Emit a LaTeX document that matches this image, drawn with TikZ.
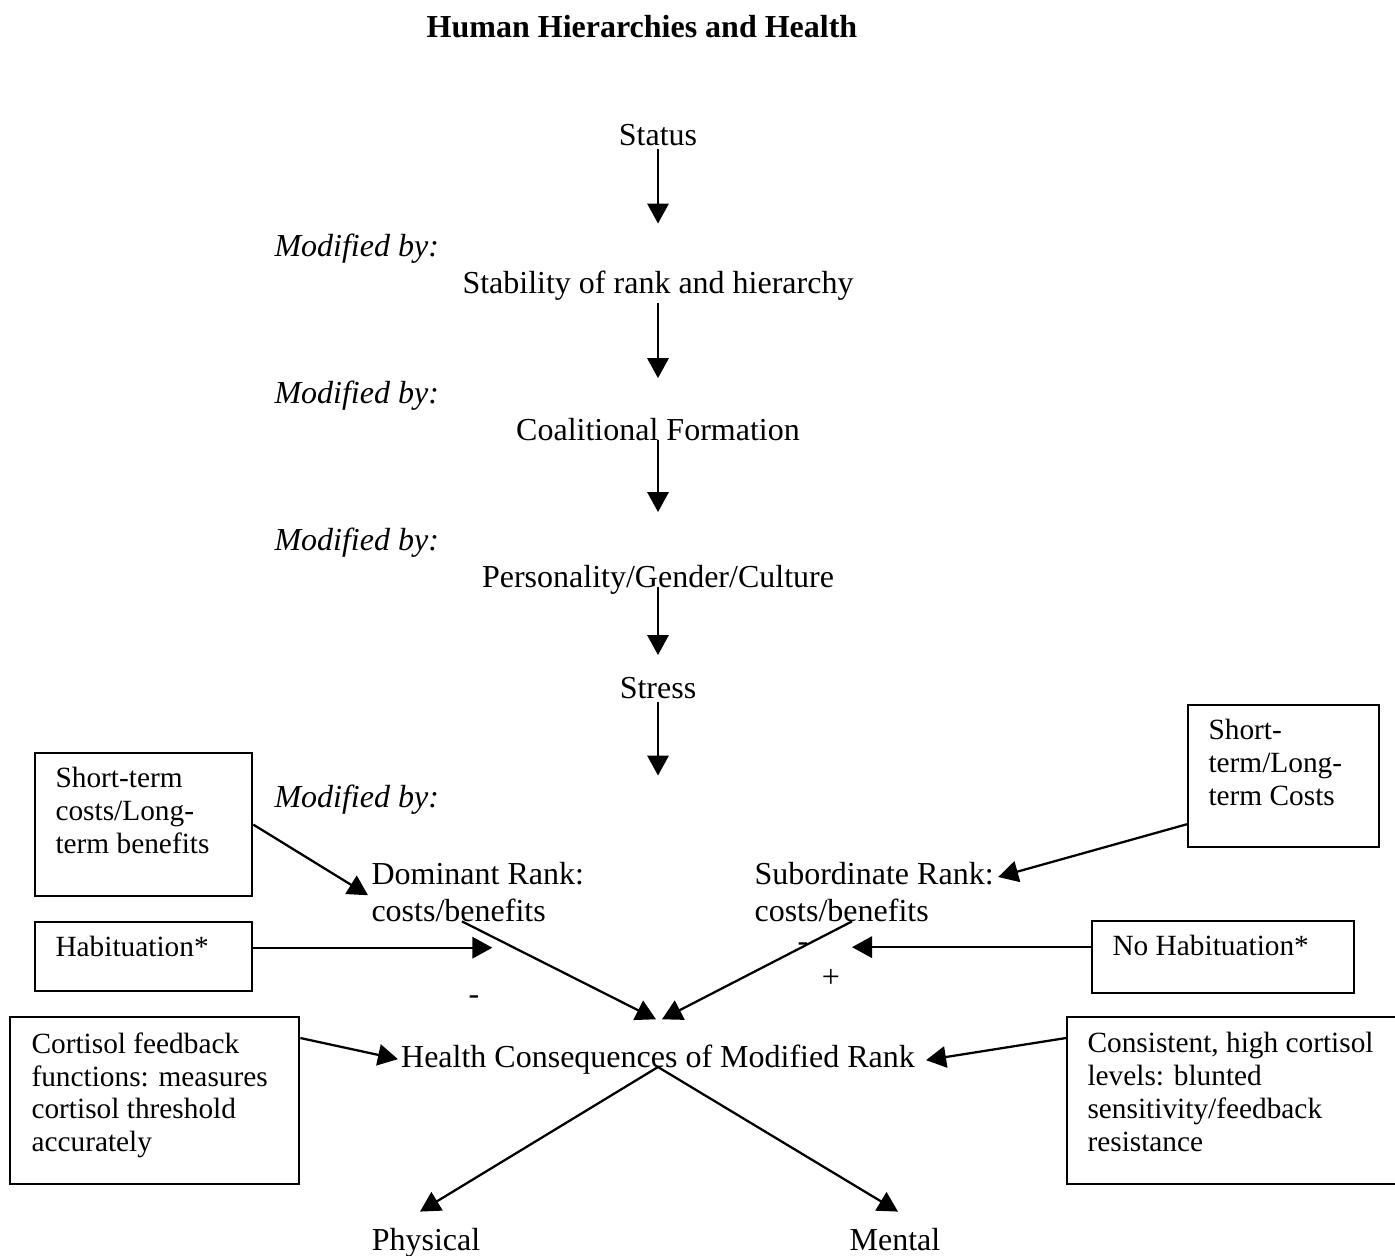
\documentclass[tikz,border=0pt]{standalone}
\usepackage{fontspec}
\setmainfont{Liberation Serif}
\usepackage{tikz}
\usetikzlibrary{arrows.meta,calc}

\begin{document}
\begin{tikzpicture}[x=0.375pt,y=-0.375pt,
  txt/.style={font=\fontsize{12pt}{13.8pt}\selectfont,inner sep=1pt,anchor=base},
  two/.style={font=\fontsize{12pt}{13.8pt}\selectfont,align=left,inner sep=0pt,anchor=north west},
  mod/.style={font=\fontsize{12pt}{13.8pt}\selectfont\itshape,inner sep=0pt,anchor=base west},
  box/.style={draw,line width=0.85pt,anchor=north west,inner sep=0pt},
  boxtxt/.style={font=\fontsize{11pt}{12.3pt}\selectfont,align=left,inner sep=0pt,anchor=north west},
  arr/.style={line width=0.85pt,-{Triangle[width=8pt,length=7.5pt]}}]
\useasboundingbox (0,0) rectangle (1395,1255);
\node[txt,font=\fontsize{12pt}{13.8pt}\selectfont\bfseries] (title) at (642,37) {Human Hierarchies and Health};
% main column
\node[txt] (status) at (658,145) {Status};
\node[txt] (stab) at (658,293) {Stability of rank and hierarchy};
\node[txt] (coal) at (658,440) {Coalitional Formation};
\node[txt] (pers) at (658,587) {Personality/Gender/Culture};
\node[txt] (stress) at (658,698) {Stress};
\foreach \a/\l in {status.south/75,stab.south/75,coal.base/72,pers.base/68,stress.south/74}
  \draw[arr] (\a) -- ++(0,\l);
\foreach \y in {256,403,550,807}
  \node[mod] (mod\y) at (274,\y) {Modified by:};
% rank
\node[two] (dom) at (371,862) {Dominant Rank:\\costs/benefits};
\node[two] (sub) at (754,862) {Subordinate Rank:\\costs/benefits};
\node[txt] (health) at (658,1067) {Health Consequences of Modified Rank};
\node[txt] (phys) at (426,1250) {Physical};
\node[txt] (ment) at (895,1250) {Mental};
\node[txt,anchor=center] (minusa) at (474,1000) {-};
\node[txt,anchor=center] (plus) at (831,978) {+};
\node[txt,anchor=center] (minusb) at (803,947) {-};
% side boxes
\node[box,minimum width=81.4pt,minimum height=53.6pt] (stlbox) at (34,752) {};
\node[boxtxt] (stltxt) at ($(stlbox.north west)+(21,15)$) {Short-term\\costs/Long-\\term benefits};
\node[box,minimum width=81.4pt,minimum height=25.9pt] (habbox) at (34,921) {};
\node[boxtxt] (habtxt) at ($(habbox.north west)+(21,15)$) {Habituation*};
\node[box,minimum width=108.4pt,minimum height=62.6pt] (corbox) at (9,1016) {};
\node[boxtxt] (cortxt) at ($(corbox.north west)+(22,16)$) {Cortisol feedback\\functions: measures\\cortisol threshold\\accurately};
\node[box,minimum width=71.6pt,minimum height=53.3pt] (strbox) at (1187,704) {};
\node[boxtxt] (strtxt) at ($(strbox.north west)+(21,15)$) {Short-\\term/Long-\\term Costs};
\node[box,minimum width=98.3pt,minimum height=27pt] (nohbox) at (1091,920) {};
\node[boxtxt] (nohtxt) at ($(nohbox.north west)+(21,15)$) {No Habituation*};
\node[box,minimum width=135pt,minimum height=62.6pt] (conbox) at (1066,1016) {};
\node[boxtxt] (contxt) at ($(conbox.north west)+(21,16)$) {Consistent, high cortisol\\levels: blunted\\sensitivity/feedback\\resistance};
% arrows
\draw[arr] (stlbox.east) -- ($(dom.west)+(-3,3)$);
\draw[arr] ($(strbox.west)+(0,48)$) -- ($(sub.north east)+(4,15)$);
\draw[arr] ($(habbox.east)+(0,-9)$) -- ++(239,0);
\draw[arr] ($(nohbox.west)+(0,-10)$) -- ++(-239,0);
\draw[arr] ($(dom.south west)+(91,-1)$) -- ($(health.north)+(-2,-22)$);
\draw[arr] ($(sub.south west)+(98,-1)$) -- ($(health.north)+(4,-22)$);
\draw[arr] ($(corbox.north east)+(0,22)$) -- (health.west);
\draw[arr] ($(conbox.north west)+(0,22)$) -- ($(health.east)+(8,1)$);
\draw[arr] (health.base) -- ($(phys.north)+(-6,-13)$);
\draw[arr] (health.base) -- ($(ment.north)+(3,-13)$);
\end{tikzpicture}
\end{document}
